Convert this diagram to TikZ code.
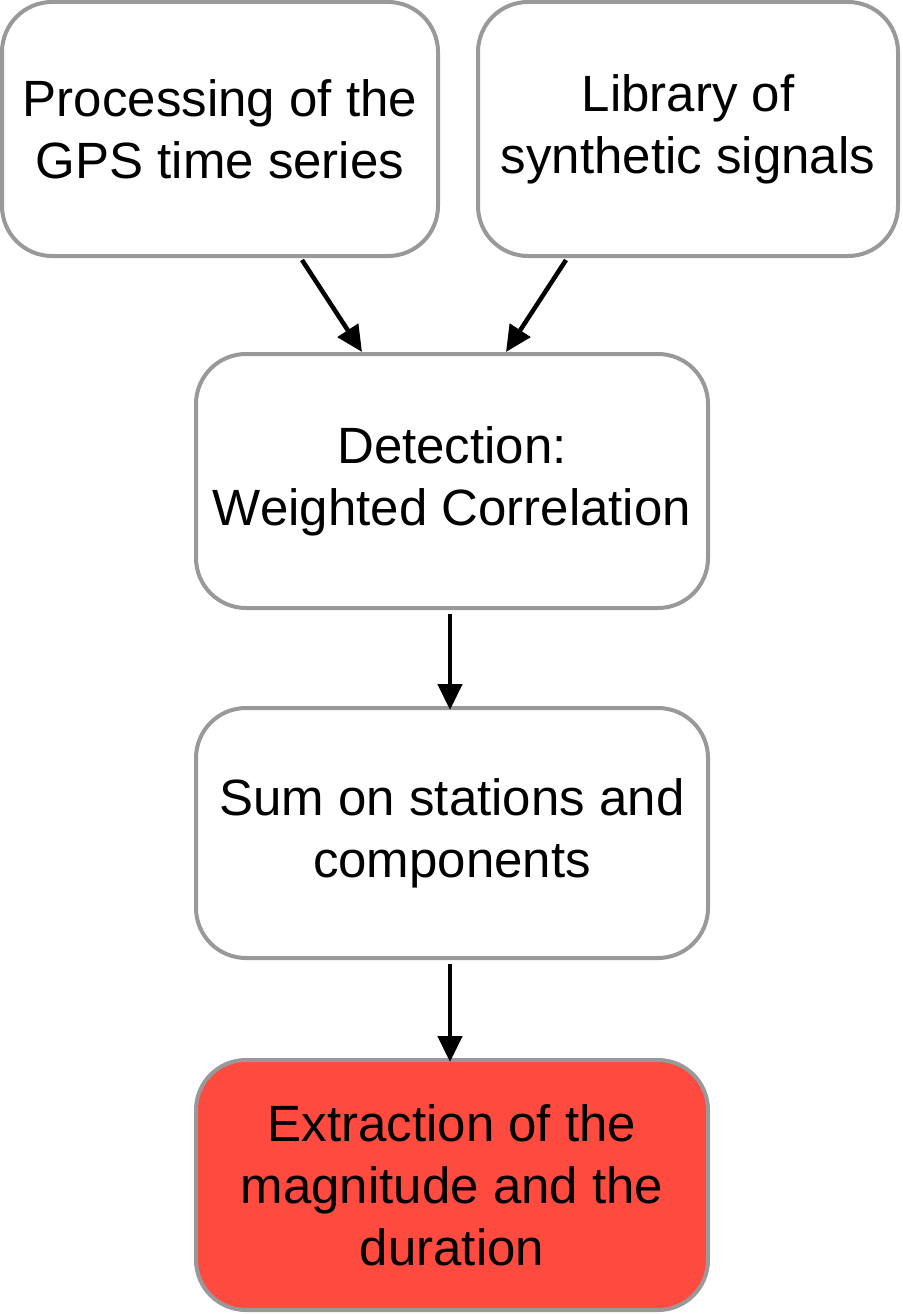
\documentclass[tikz,border=0pt]{standalone}
\usepackage{fontspec}
\setmainfont{Liberation Sans}
\usetikzlibrary{arrows.meta}
\tikzset{
  box/.style={draw=boxgray, line width=4pt, rounded corners=50pt, fill=white,
    align=center, inner sep=0pt,
    font=\fontsize{51}{62}\selectfont},
  conn/.style={line width=4.5pt, -{Triangle[length=26pt,width=24pt]}}
}
\definecolor{boxgray}{HTML}{999999}
\definecolor{boxred}{HTML}{FF4A40}
\begin{document}
\begin{tikzpicture}[x=1pt,y=-1pt]
\useasboundingbox (0,0) rectangle (902,1314);
\node[box, minimum width=436pt, minimum height=254pt] (A) at (220,129) {Processing of the\\GPS time series};
\node[box, minimum width=420pt, minimum height=254pt] (B) at (688,129) {Library of\\synthetic signals};
\node[box, minimum width=512pt, minimum height=254pt] (C) at (452,481) {Detection:\\Weighted Correlation};
\node[box, minimum width=512pt, minimum height=250pt] (D) at (452,833) {Sum on stations and\\components};
\node[box, fill=boxred, minimum width=512pt, minimum height=250pt] (E) at (452,1185) {Extraction of the\\magnitude and the\\duration};
\coordinate (a1) at (302,260);
\coordinate (c1) at (362,352);
\coordinate (b1) at (566,260);
\coordinate (c2) at (506,352);
\draw[conn] (a1) -- (c1);
\draw[conn] (b1) -- (c2);
\draw[conn] (C.south -| 450,0) ++(0,4) -- ([yshift=-4pt]D.north -| 450,0);
\draw[conn] (D.south -| 450,0) ++(0,4) -- ([yshift=-4pt]E.north -| 450,0);
\end{tikzpicture}
\end{document}
